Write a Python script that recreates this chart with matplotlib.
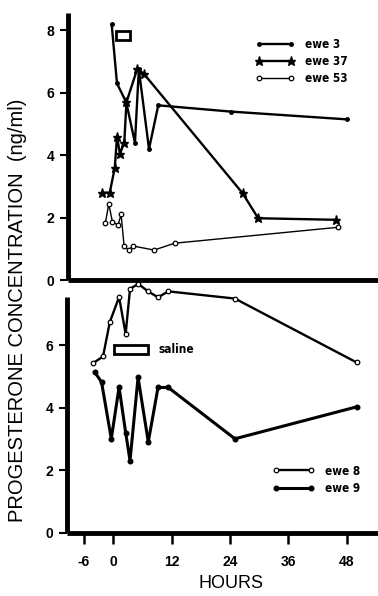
import matplotlib
matplotlib.use("Agg")
import matplotlib.pyplot as plt
from matplotlib.patches import Rectangle

# upper panel
hours_3 = [-0.5, 0.6, 2.5, 4.3, 5.1, 7.2, 9.1, 24, 48]
ewe_3 = [8.2, 6.3, 5.7, 4.4, 6.75, 4.2, 5.6, 5.4, 5.15]
hours_37 = [-2.4, -0.9, 0.15, 0.6, 1.2, 2.1, 2.55, 4.8, 6.2, 26.5, 29.7, 45.7]
ewe_37 = [2.8, 2.8, 3.6, 4.6, 4.05, 4.4, 5.7, 6.78, 6.6, 2.78, 1.98, 1.93]
hours_53 = [-1.8, -1.1, -0.35, 0.8, 1.45, 2.06, 3.0, 3.9, 8.25, 12.5, 46.2]
ewe_53 = [1.82, 2.44, 1.87, 1.76, 2.1, 1.09, 0.96, 1.09, 0.96, 1.18, 1.69]

# lower panel
hours_8 = [-4.1, -2.1, -0.7, 1.2, 2.55, 3.45, 5.15, 7.15, 9.2, 11.3, 25, 50]
ewe_8 = [5.43, 5.64, 6.74, 7.54, 6.36, 7.8, 7.96, 7.72, 7.53, 7.72, 7.49, 5.45]
hours_9 = [-3.8, -2.4, -0.4, 1.2, 2.55, 3.45, 5.1, 7.2, 9.2, 11.3, 25, 50]
ewe_9 = [5.14, 4.82, 3.01, 4.66, 3.21, 2.31, 4.97, 2.91, 4.65, 4.65, 3.01, 4.03]

xticks = [-6, 0, 12, 24, 36, 48]
top_yticks = [0, 2, 4, 6, 8]
bot_yticks = [0, 2, 4, 6]

# treatment bars (hours, ng/ml)
infusion_top = (0.35, 3.2, 7.71, 7.99)
saline_bar = (0.15, 7.2, 5.73, 6.02)

plt.rcParams['font.family'] = ['Liberation Sans', 'DejaVu Sans']
small = {"family": "DejaVu Sans", "size": 8.5, "weight": "bold", "stretch": "condensed"}

fig = plt.figure(figsize=(3.78, 5.96), dpi=100)
W, H = 378, 596
ax1 = fig.add_axes([68 / W, 1 - 280 / H, 1 - 68 / W, (280 - 13) / H])
ax2 = fig.add_axes([67 / W, 1 - 533 / H, 1 - 67 / W, (533 - 297) / H])

for ax in (ax1, ax2):
    ax.set_xlim(-9.5, 54.4)
    for s in ("top", "right"):
        ax.spines[s].set_visible(False)
    for s in ("left", "bottom"):
        ax.spines[s].set_linewidth(3.5)
        ax.spines[s].set_capstyle("butt")
    ax.tick_params(axis="y", direction="out", length=6, width=1.5, pad=4, labelsize=10)

ax1.set_ylim(0, 8.56)
ax1.set_yticks(top_yticks)
ax1.set_xticks([])
ax2.set_ylim(0, 7.54)
ax2.set_yticks(bot_yticks)
ax2.set_xticks(xticks)
ax2.set_xticklabels(["-6", "0", "12", "24", "36", "48"])
ax2.tick_params(axis="x", direction="out", length=8, width=1.8, pad=8, labelsize=10)
for ax in (ax1, ax2):
    for lbl in ax.get_yticklabels() + ax.get_xticklabels():
        lbl.set_fontweight("bold")

ax1.plot(hours_3, ewe_3, "-", color="black", lw=1.7, marker="o", ms=2.5, label="ewe 3")
ax1.plot(hours_37, ewe_37, "-", color="black", lw=1.7, marker="*", ms=6.5, label="ewe 37")
ax1.plot(hours_53, ewe_53, "-", color="black", lw=1.0, marker="o", ms=3.3,
         mfc="white", mew=0.9, label="ewe 53")

x0, x1, y0, y1 = infusion_top
ax1.add_patch(Rectangle((x0, y0), x1 - x0, y1 - y0, fill=False, lw=2, ec="black"))

ax1.legend(loc="upper left", bbox_to_anchor=(0.605, 0.905), frameon=False,
           borderpad=0, borderaxespad=0, numpoints=2, handlelength=3.3,
           handletextpad=0.9, labelspacing=0.33, prop=small)

ax2.plot(hours_8, ewe_8, "-", color="black", lw=1.7, marker="o", ms=3.3,
         mfc="white", mew=0.9, label="ewe 8", clip_on=False)
ax2.plot(hours_9, ewe_9, "-", color="black", lw=2.2, marker="o", ms=3.3,
         label="ewe 9", clip_on=False)

x0, x1, y0, y1 = saline_bar
ax2.add_patch(Rectangle((x0, y0), x1 - x0, y1 - y0, fill=False, lw=2, ec="black"))
ax2.text(9.2, (y0 + y1) / 2, "saline", va="center", ha="left", fontdict=small)

ax2.legend(loc="upper left", bbox_to_anchor=(0.66, 0.29), frameon=False,
           borderpad=0, borderaxespad=0, numpoints=2, handlelength=3.6,
           handletextpad=0.9, labelspacing=0.35, prop=small)

fig.text(0.045, 0.48, "PROGESTERONE CONCENTRATION  (ng/ml)", rotation=90,
         ha="center", va="center", fontsize=14.5)
fig.text(231 / W, 0.006, "HOURS", ha="center", va="bottom", fontsize=13)

fig.savefig("out.png", dpi=100)
